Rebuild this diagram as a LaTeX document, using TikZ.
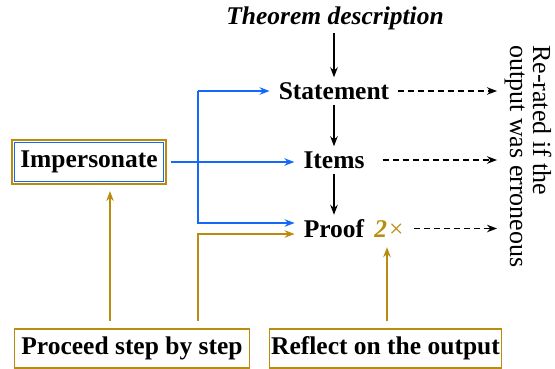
\documentclass[tikz,border=0pt]{standalone}
\usepackage{fontspec}
\setmainfont{Liberation Serif}
\usetikzlibrary{arrows.meta,calc}
\definecolor{myblue}{RGB}{20,105,250}
\definecolor{mygold}{RGB}{185,140,15}
\begin{document}
\begin{tikzpicture}[x=1pt,y=-1pt,
  font=\fontsize{25.5}{23}\selectfont,
  lbl/.style={text height=17pt,text depth=0pt,inner xsep=9pt,inner ysep=5pt,font=\fontsize{25.5}{23}\selectfont\bfseries},
  box/.style={draw=mygold,line width=1.5pt,text height=17.5pt,text depth=6pt,inner sep=0pt,minimum height=39pt,font=\fontsize{25.5}{23}\selectfont\bfseries},
  arr/.style={line width=1.45pt,-{Stealth[length=10pt,width=7.5pt]}},
  dsh/.style={arr,dash pattern=on 6pt off 4pt},
  rot/.style={rotate=-90,anchor=base west,inner sep=0pt,font=\fontsize{26}{23}\selectfont},
]
\useasboundingbox (0,0) rectangle (555,369);

% text nodes
\node[lbl,font=\fontsize{25.5}{23}\selectfont\bfseries\itshape,text depth=5pt,inner ysep=3pt] (th) at (335,19) {Theorem description};
\node[lbl] (st) at (334,91) {Statement};
\node[lbl] (it) at (334,160) {Items};
\node[lbl] (pr) at (334,228.5) {Proof};
\node[lbl,text=mygold,font=\fontsize{25.5}{23}\selectfont,inner xsep=10pt] (tm) at (389,228.5) {\textbf{\textit{2}}\hspace{2pt}×};

% boxes
\node[box,draw=myblue,line width=1.2pt,minimum width=149pt] (imp) at (89,162) {Impersonate};
\draw[mygold,line width=1.5pt] ($(imp.north west)+(-2pt,2pt)$) rectangle ($(imp.south east)+(2pt,-2pt)$);
\node[box,minimum width=235pt] (pc) at (132,348.5) {Proceed step by step};
\node[box,minimum width=232pt] (rf) at (385.5,348.5) {Reflect on the output};

% rotated note
\node[rot] (r1) at (533,45) {Re-rated if the};
\node[rot] (r2) at (510,45) {output was erroneous};

% helper coordinates
\coordinate (ex) at (497,0);
\coordinate (bx) at (198,0);
\coordinate (ix) at (110,0);
\coordinate (rx) at (387,0);

% black arrows
\draw[arr] (th.south -| st.north) -- (st.north);
\draw[arr] (st.south) -- (it.north);
\draw[arr] (it.south) -- (pr.north);

% dashed arrows
\draw[dsh] (st.east) -- (st.east -| ex);
\draw[dsh,shorten <=9pt] (it.east) -- (it.east -| ex);
\draw[dsh] (tm.east) -- (tm.east -| ex);

% blue arrows
\draw[arr,myblue,shorten <=7pt] (imp.east) -- (imp.east -| it.west);
\draw[arr,myblue] (st.west -| bx) -- (st.west);
\draw[arr,myblue] (st.west -| bx) |- ([yshift=5.5pt]pr.west);

% gold arrows
\draw[arr,mygold,shorten <=7pt,shorten >=9pt] (pc.north -| ix) -- (imp.south -| ix);
\draw[arr,mygold,shorten <=7pt] (pc.north -| bx) |- ([yshift=-5.5pt]pr.west);
\draw[arr,mygold,shorten <=7pt,shorten >=5pt] (rf.north -| rx) -- (tm.south -| rx);
\end{tikzpicture}
\end{document}
